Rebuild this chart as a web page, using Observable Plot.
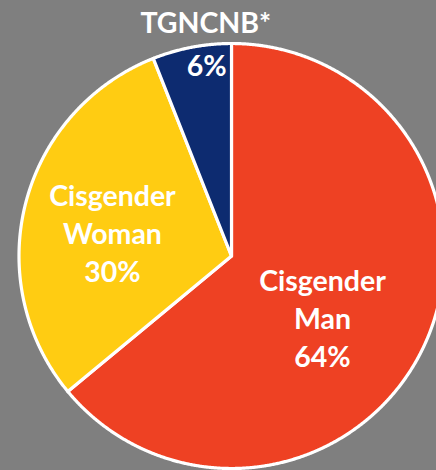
<!DOCTYPE html>
<html>
<head>
<meta charset="utf-8">
<script src="https://cdn.jsdelivr.net/npm/d3@7"></script>
<script src="https://cdn.jsdelivr.net/npm/@observablehq/plot@0.6"></script>
<style>
  html, body { margin: 0; padding: 0; background: #7F7F7F; overflow: hidden; }
  #chart svg { display: block; }
</style>
</head>
<body>
<div id="chart"></div>
<script>
// ---- data ----
const categories = ["Cisgender Man", "Cisgender Woman", "TGNCNB*"];
const values = [64, 30, 6];
const colors = ["#EE4123", "#FFCC12", "#0D2B70"];
const sliceLabels = ["Cisgender\nMan\n64%", "Cisgender\nWoman\n30%", "6%"];
const outsideLabels = ["", "", "TGNCNB*"];

// ---- layout (positions in pie-radius units, angles in degrees clockwise from top) ----
const insidePos = [{a: 123.6, r: 0.514}, {a: 281.6, r: 0.572}, {a: 352.6, r: 0.911}];
const outsidePos = [null, null, {a: 353.7, r: 1.101}];

const W = 436, H = 470;
const cx = 231, cy = 255.5, R = 212.5;

const arcs = d3.pie().sort(null).value(d => d)(values);

function polar(aRad, r) { return {x: r * Math.sin(aRad), y: r * Math.cos(aRad)}; }

// slice polygons in unit coordinates
const slicePolys = arcs.map((arc, i) => {
  const pts = [{...polar(0, 0), k: i}];
  const n = Math.max(2, Math.ceil((arc.endAngle - arc.startAngle) / (Math.PI / 720)));
  for (let j = 0; j <= n; j++) {
    const a = arc.startAngle + (arc.endAngle - arc.startAngle) * j / n;
    pts.push({...polar(a, 1), k: i});
  }
  pts.push({...polar(0, 0), k: i});
  return pts;
});

const inside = categories.map((c, i) => {
  const p = polar(insidePos[i].a * Math.PI / 180, insidePos[i].r);
  return {x: p.x, y: p.y, label: sliceLabels[i]};
});
const outside = categories.map((c, i) => outsidePos[i] ? {...polar(outsidePos[i].a * Math.PI / 180, outsidePos[i].r), label: outsideLabels[i]} : null).filter(d => d);

const chart = Plot.plot({
  width: W,
  height: H,
  margin: 0,
  style: {background: "#7F7F7F", fontFamily: "Lato, 'Open Sans', sans-serif", overflow: "visible"},
  x: {domain: [-cx / R, (W - cx) / R], axis: null},
  y: {domain: [-(H - cy) / R, cy / R], axis: null},
  marks: [
    ...slicePolys.map((pts, i) => Plot.line(pts, {
      x: "x", y: "y", fill: colors[i], stroke: "white", strokeWidth: 3.2, strokeLinejoin: "round"
    })),
    Plot.text(inside, {
      x: "x", y: "y", text: "label", fill: "white", fontSize: 28.5, fontWeight: "bold",
      lineHeight: 1.333, lineAnchor: "middle"
    }),
    Plot.text(outside, {
      x: "x", y: "y", text: "label", fill: "white", fontSize: 28.5, fontWeight: "bold",
      lineAnchor: "middle"
    })
  ]
});
document.getElementById("chart").appendChild(chart);
</script>
</body>
</html>
